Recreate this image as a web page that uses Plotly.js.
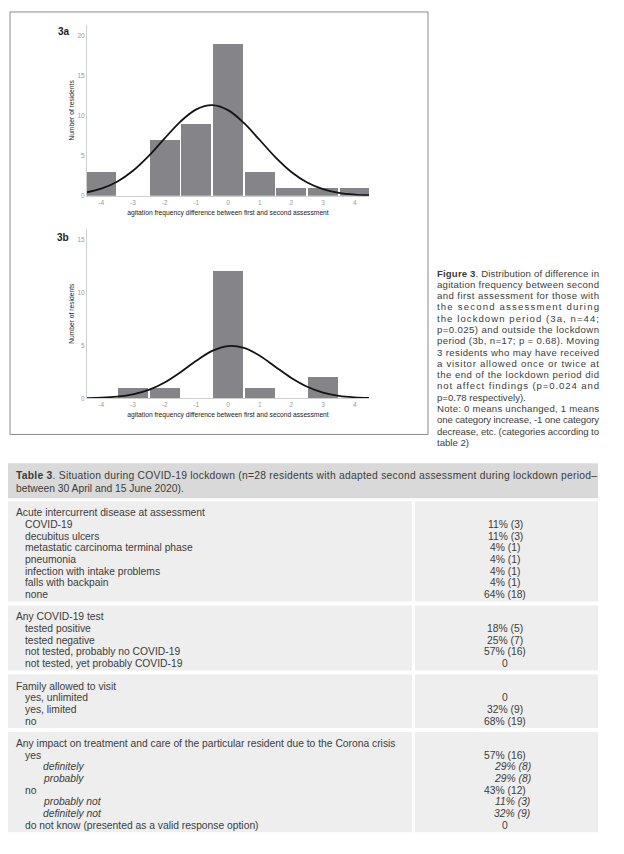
<!DOCTYPE html>
<html><head><meta charset="utf-8">
<script src="https://cdn.plot.ly/plotly-3.0.1.min.js"></script>
<style>html,body{margin:0;padding:0;background:#fff}#chart{width:624px;height:854px}</style>
</head><body><div id="chart"></div>
<script>
// ---------- data ----------
const bins = [-4, -3, -2, -1, 0, 1, 2, 3, 4];
const tickLabels = ["-4", "-3", "-2", "-1", "0", "1", "2", "3", "4"];
const countsA = [3, 0, 7, 9, 19, 3, 1, 1, 1];
const countsB = [0, 1, 1, 0, 12, 1, 0, 2, 0];
const curveX = [-4.5, -4, -3.5, -3, -2.5, -2, -1.5, -1, -0.5, 0, 0.5, 1, 1.5, 2, 2.5, 3, 3.5, 4, 4.5];
const curveA = [0.41, 0.90, 1.77, 3.14, 5.01, 7.19, 9.30, 10.83, 11.36, 10.73, 9.13, 6.99, 4.82, 2.99, 1.67, 0.84, 0.38, 0.16, 0.06];
const curveB = [0.02, 0.05, 0.15, 0.37, 0.79, 1.49, 2.46, 3.55, 4.48, 4.94, 4.77, 4.03, 2.97, 1.92, 1.09, 0.54, 0.23, 0.09, 0.03];
const yTicksA = [0, 5, 10, 15, 20];
const yTicksB = [0, 5, 10, 15];
const xTitle = "agitation frequency difference between first and second assessment";
const yTitle = "Number of residents";

const captionLines = [
  "<b>Figure 3</b>. Distribution of difference in",
  "agitation frequency between second",
  "and first assessment for those with",
  "the second assessment during",
  "the lockdown period (3a, n=44;",
  "p=0.025) and outside the lockdown",
  "period (3b, n=17; p = 0.68). Moving",
  "3 residents who may have received",
  "a visitor allowed once or twice at",
  "the end of the lockdown period did",
  "not affect findings (p=0.024 and",
  "p=0.78 respectively).",
  "Note: 0 means unchanged, 1 means",
  "one category increase, -1 one category",
  "decrease, etc. (categories according to",
  "table 2)"
];
const captionRagged = [11, 15];

const tableTitle1 = "<b>Table 3</b>. Situation during COVID-19 lockdown (n=28 residents with adapted second assessment during lockdown period–";
const tableTitle2 = "between 30 April and 15 June 2020).";

const sec1Labels = ["Acute intercurrent disease at assessment", "COVID-19", "decubitus ulcers", "metastatic carcinoma terminal phase", "pneumonia", "infection with intake problems", "falls with backpain", "none"];
const sec1Values = ["", "11% (3)", "11% (3)", "4% (1)", "4% (1)", "4% (1)", "4% (1)", "64% (18)"];
const sec1Levels = [0, 1, 1, 1, 1, 1, 1, 1];
const sec2Labels = ["Any COVID-19 test", "tested positive", "tested negative", "not tested, probably no COVID-19", "not tested, yet probably COVID-19"];
const sec2Values = ["", "18% (5)", "25% (7)", "57% (16)", "0"];
const sec2Levels = [0, 1, 1, 1, 1];
const sec3Labels = ["Family allowed to visit", "yes, unlimited", "yes, limited", "no"];
const sec3Values = ["", "0", "32% (9)", "68% (19)"];
const sec3Levels = [0, 1, 1, 1];
const sec4Labels = ["Any impact on treatment and care of the particular resident due to the Corona crisis", "yes", "definitely", "probably", "no", "probably not", "definitely not", "do not know (presented as a valid response option)"];
const sec4Values = ["", "57% (16)", "29% (8)", "29% (8)", "43% (12)", "11% (3)", "32% (9)", "0"];
const sec4Levels = [0, 1, 2, 2, 1, 2, 2, 1];

// ---------- helpers ----------
const W = 624, H = 854;
const px = x => x / W;
const py = y => 1 - y / H;
const TXT = "#3c3c3c";
const FONT = "Liberation Sans, Arial, sans-serif";
const CHART_FONT = "Liberation Sans, Arial, sans-serif";

const BAR = "#848489";
const traces = [
  {type: "bar", x: bins, y: countsA, width: 0.95, marker: {color: BAR}, xaxis: "x", yaxis: "y"},
  {type: "scatter", mode: "lines", x: curveX, y: curveA, line: {color: "#141414", width: 1.8, shape: "spline", smoothing: 1}, xaxis: "x", yaxis: "y"},
  {type: "bar", x: bins, y: countsB, width: 0.95, marker: {color: BAR}, xaxis: "x2", yaxis: "y2"},
  {type: "scatter", mode: "lines", x: curveX, y: curveB, line: {color: "#141414", width: 1.8, shape: "spline", smoothing: 1}, xaxis: "x2", yaxis: "y2"}
];

function xAxis(anchor) {
  return {
    anchor: anchor, domain: [px(87), px(369)], range: [-4.45, 4.45],
    tickmode: "array", tickvals: bins, ticktext: tickLabels,
    tickfont: {family: CHART_FONT, size: 6.5, color: "#9a9a9a"}, ticks: "",
    showline: true, linecolor: "#cfcfcf", linewidth: 1,
    showgrid: false, zeroline: false, fixedrange: true, automargin: true,
    title: {text: xTitle, font: {family: CHART_FONT, size: 6.7, color: "#222"}, standoff: 5}
  };
}
function yAxis(anchor, dom, rng, ticks) {
  return {
    anchor: anchor, domain: dom, range: rng,
    tickmode: "array", tickvals: ticks,
    tickfont: {family: CHART_FONT, size: 6.5, color: "#9a9a9a"}, ticks: "",
    showline: true, linecolor: "#cfcfcf", linewidth: 1,
    showgrid: false, zeroline: false, fixedrange: true, automargin: true,
    title: {text: yTitle, font: {family: CHART_FONT, size: 6.7, color: "#222"}, standoff: 2}
  };
}

const annotations = [];
const shapes = [];
const justify = [];

function addText(text, x, y, opts) {
  opts = opts || {};
  annotations.push({
    xref: "paper", yref: "paper", x: px(x), y: py(y),
    xanchor: opts.xanchor || "left", yanchor: "middle", align: opts.align || "left",
    showarrow: false, text: text, borderpad: 0,
    font: {family: opts.family || FONT, size: opts.size || 10.3, color: opts.color || TXT}
  });
  if (opts.justifyWidth) justify.push({idx: annotations.length - 1, width: opts.justifyWidth});
}
function rect(x0, y0, x1, y1, fill, line) {
  shapes.push({type: "rect", xref: "paper", yref: "paper", layer: "below",
    x0: px(x0), x1: px(x1), y0: py(y1), y1: py(y0),
    fillcolor: fill || "rgba(0,0,0,0)", line: line || {width: 0}});
}

// figure frame and panel labels
rect(10, 12, 428, 436, null, {color: "#8a8a8a", width: 1});
addText("<b>3a</b>", 57, 32, {size: 10, color: "#222"});
addText("<b>3b</b>", 56, 238, {size: 10, color: "#222"});

// caption
const capX = 436, capY0 = 274, capDY = 11.33, capW = 162;
captionLines.forEach((t, i) => {
  addText(t, capX, capY0 + i * capDY, {size: 9.6, justifyWidth: captionRagged.includes(i) ? null : capW});
});

// table header
rect(8, 465, 598, 500, "#d9d9d9");
addText(tableTitle1, 15, 477.5, {justifyWidth: 581});
addText(tableTitle2, 15, 490);

// table body
const sections = [
  {labels: sec1Labels, values: sec1Values, levels: sec1Levels},
  {labels: sec2Labels, values: sec2Values, levels: sec2Levels},
  {labels: sec3Labels, values: sec3Values, levels: sec3Levels},
  {labels: sec4Labels, values: sec4Values, levels: sec4Levels}
];
const rowH = 11.72, padTop = 11.5, padBot = 7, gap = 4;
const indentX = [15, 24, 42];
const valX = [505, 505, 512];
let cursor = 503;
sections.forEach(sec => {
  const top = cursor;
  const first = top + padTop;
  const last = first + (sec.labels.length - 1) * rowH;
  const bottom = last + padBot;
  rect(8, top, 412, bottom, "#eeeeee");
  rect(415, top, 598, bottom, "#eeeeee");
  sec.labels.forEach((lab, i) => {
    const lv = sec.levels[i];
    const y = first + i * rowH;
    const it = lv === 2;
    addText(it ? "<i>" + lab + "</i>" : lab, indentX[lv], y);
    if (sec.values[i] !== "") {
      addText(it ? "<i>" + sec.values[i] + "</i>" : sec.values[i], valX[lv], y, {xanchor: "center", align: "center"});
    }
  });
  cursor = bottom + gap;
});

const layout = {
  width: W, height: H,
  margin: {l: 0, r: 0, t: 0, b: 0, pad: 0},
  paper_bgcolor: "#ffffff", plot_bgcolor: "rgba(0,0,0,0)",
  font: {family: FONT, color: TXT},
  showlegend: false, bargap: 0,
  xaxis: xAxis("y"),
  yaxis: yAxis("x", [py(196.5), py(25)], [0, 21.4], yTicksA),
  xaxis2: xAxis("y2"),
  yaxis2: yAxis("x2", [py(399.7), py(230)], [0, 16], yTicksB),
  annotations: annotations, shapes: shapes
};

Plotly.newPlot("chart", traces, layout, {staticPlot: true, displayModeBar: false}).then(gd => {
  justify.forEach(j => {
    const t = gd.querySelector('g.annotation[data-index="' + j.idx + '"] text.annotation-text');
    if (t) {
      t.setAttribute("textLength", j.width);
      t.setAttribute("lengthAdjust", "spacing");
    }
  });
});
</script>
</body></html>
